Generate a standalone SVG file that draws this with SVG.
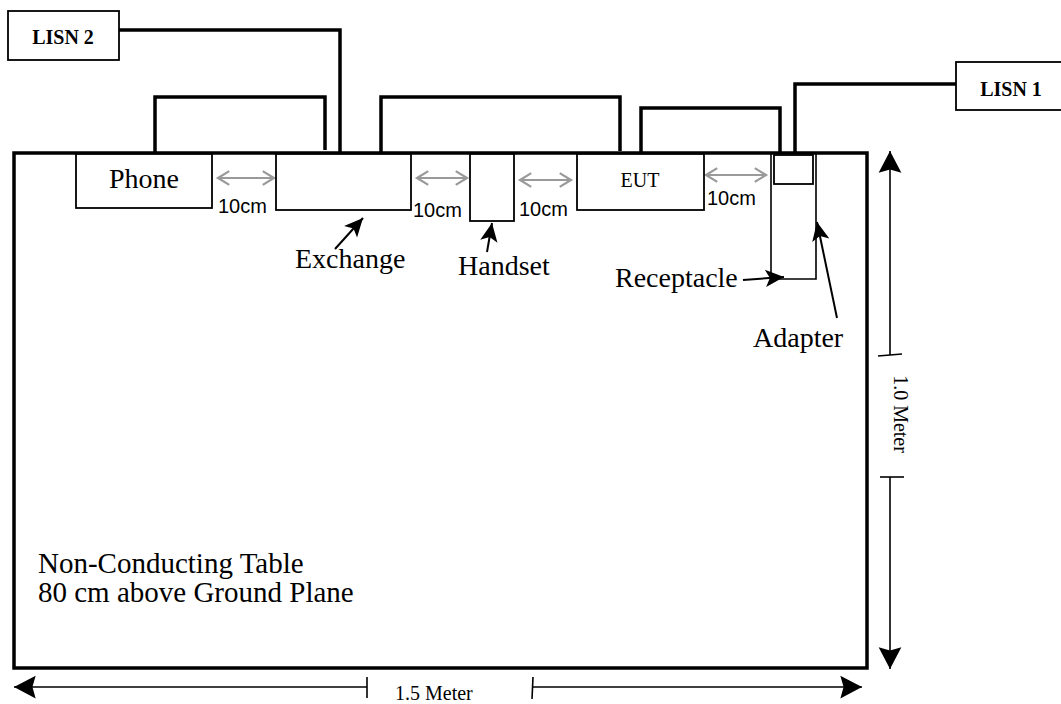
<svg xmlns="http://www.w3.org/2000/svg" width="1061" height="704" viewBox="0 0 1061 704">
<style>
.serif{font-family:"Liberation Serif","Times New Roman",serif;fill:#000}
.sans{font-family:"Liberation Sans",Arial,sans-serif;fill:#000}
.box{fill:#fff;stroke:#000;stroke-width:1.8}
.wire{fill:none;stroke:#000;stroke-width:3.5;stroke-linejoin:miter}
.thin{fill:none;stroke:#000;stroke-width:1.6}
.gap{fill:none;stroke:#9a9a9a;stroke-width:1.8;marker-start:url(#gh);marker-end:url(#gh)}
.ptr{fill:none;stroke:#000;stroke-width:2;marker-end:url(#ph)}
.dim{fill:none;stroke:#000;stroke-width:1.6;marker-end:url(#dh)}
</style>
<defs>
<marker id="gh" markerUnits="userSpaceOnUse" markerWidth="20" markerHeight="20" viewBox="-12 -8 14 16" refX="0" refY="0" orient="auto-start-reverse">
<path d="M-9,-5.5 L0,0 L-9,5.5" fill="none" stroke="#9a9a9a" stroke-width="1.8"/>
</marker>
<marker id="ph" markerUnits="userSpaceOnUse" markerWidth="24" markerHeight="24" viewBox="-20 -10 22 20" refX="0" refY="0" orient="auto">
<path d="M0,0 L-17,-8 L-13,0 L-17,8 Z" fill="#000"/>
</marker>
<marker id="dh" markerUnits="userSpaceOnUse" markerWidth="26" markerHeight="26" viewBox="-22 -12 24 24" refX="0" refY="0" orient="auto">
<path d="M0,0 L-20,-10.5 L-17,0 L-20,10.5 Z" fill="#000"/>
</marker>
</defs>

<g id="table">
<rect x="14" y="153" width="853" height="515" fill="#fff" stroke="#000" stroke-width="3.5"/>
<text class="serif" x="38" y="573" font-size="29">Non-Conducting Table</text>
<text class="serif" x="38" y="602" font-size="29">80 cm above Ground Plane</text>
</g>

<g id="connectors">
<polyline class="wire" points="118,30 340,30 340,153"/>
<polyline class="wire" points="155,153 155,97 325,97 325,150"/>
<polyline class="wire" points="381,153 381,97 620,97 620,151"/>
<polyline class="wire" points="641,153 641,108 780,108 780,152"/>
<polyline class="wire" points="795,153 795,84 956,84"/>
<line class="gap" x1="218" y1="178" x2="274" y2="178"/>
<line class="gap" x1="417" y1="178" x2="467" y2="178"/>
<line class="gap" x1="520" y1="180" x2="571" y2="180"/>
<line class="gap" x1="706" y1="175" x2="766" y2="175"/>
<line class="ptr" x1="335" y1="249" x2="363" y2="218"/>
<line class="ptr" x1="487" y1="252" x2="492" y2="223"/>
<line class="ptr" x1="743" y1="280" x2="784" y2="277"/>
<line class="ptr" x1="837" y1="318" x2="817" y2="222"/>
</g>

<g id="lisn2">
<rect class="box" x="8" y="11" width="111" height="49"/>
<text class="serif" x="63" y="44" font-size="20" font-weight="bold" text-anchor="middle">LISN 2</text>
</g>
<g id="lisn1">
<rect class="box" x="956" y="62" width="112" height="48"/>
<text class="serif" x="1011" y="96" font-size="20" font-weight="bold" text-anchor="middle">LISN 1</text>
</g>

<g id="phone">
<rect class="box" x="76" y="154" width="136" height="54"/>
<text class="serif" x="144" y="188" font-size="28" text-anchor="middle">Phone</text>
</g>
<g id="exchange">
<rect class="box" x="276" y="154" width="135" height="56"/>
<text class="serif" x="295" y="268" font-size="28">Exchange</text>
</g>
<g id="handset">
<rect class="box" x="470" y="154" width="44" height="67"/>
<text class="serif" x="458" y="275" font-size="28">Handset</text>
</g>
<g id="eut">
<rect class="box" x="577" y="154" width="127" height="56"/>
<text class="serif" x="640" y="187" font-size="20" text-anchor="middle">EUT</text>
</g>
<g id="receptacle">
<polyline class="thin" points="771,154 771,279 816,279 816,154"/>
<text class="serif" x="615" y="287" font-size="28">Receptacle</text>
</g>
<g id="adapter">
<rect class="box" x="774" y="155" width="39" height="29"/>
<text class="serif" x="753" y="347" font-size="28">Adapter</text>
</g>

<g id="gap-labels">
<text class="sans" x="218" y="213" font-size="20">10cm</text>
<text class="sans" x="413" y="217" font-size="20">10cm</text>
<text class="sans" x="519" y="216" font-size="20">10cm</text>
<text class="sans" x="707" y="205" font-size="20">10cm</text>
</g>

<g id="dimensions">
<line class="dim" x1="890" y1="355" x2="890" y2="151"/>
<line class="thin" x1="878" y1="356" x2="902" y2="354"/>
<line class="dim" x1="890" y1="477" x2="890" y2="669"/>
<line class="thin" x1="880" y1="477" x2="904" y2="477"/>
<text class="serif" transform="translate(894,414) rotate(90)" font-size="20" text-anchor="middle">1.0 Meter</text>
<line class="dim" x1="367" y1="687" x2="14" y2="687"/>
<line class="thin" x1="367" y1="677" x2="367" y2="698"/>
<line class="dim" x1="533" y1="687" x2="862" y2="687"/>
<line class="thin" x1="533" y1="677" x2="532" y2="699"/>
<text class="serif" x="395" y="700" font-size="20">1.5 Meter</text>
</g>
</svg>
